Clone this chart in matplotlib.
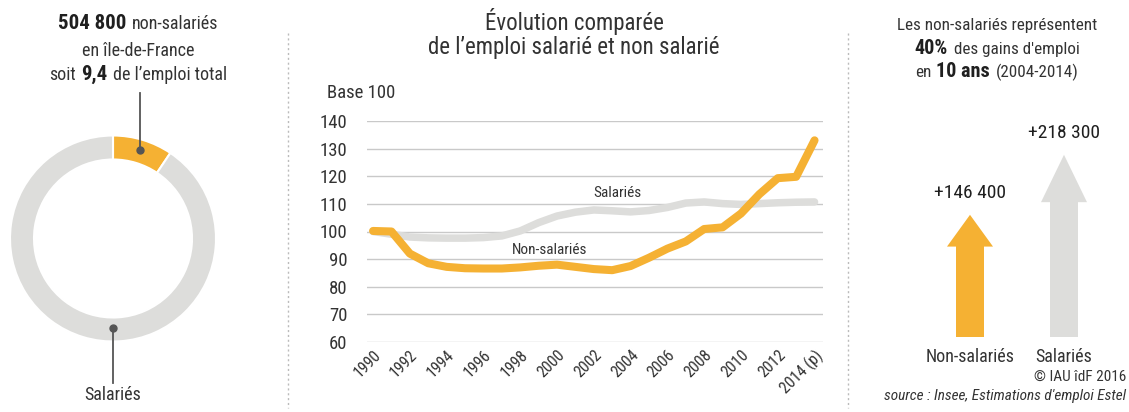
import numpy as np
import matplotlib
matplotlib.use("Agg")
import matplotlib.pyplot as plt
import matplotlib.font_manager as fm

# ---------------- data ----------------
years = list(range(1990, 2015))
non_salaries = [100.2, 100.0, 92.0, 88.5, 87.2, 86.7, 86.6, 86.6, 87.0, 87.6,
                88.0, 87.2, 86.4, 86.0, 87.5, 90.5, 93.8, 96.4, 100.9, 101.5,
                106.5, 113.5, 119.3, 119.8, 133.0]
salaries = [100.0, 99.0, 98.0, 97.7, 97.6, 97.6, 97.8, 98.4, 100.2, 103.2,
            105.6, 107.0, 107.8, 107.5, 107.1, 107.6, 108.7, 110.3, 110.7, 110.1,
            109.8, 110.1, 110.4, 110.6, 110.7]
xtick_years = list(range(1990, 2015, 2))
xtick_labels = [str(y) for y in range(1990, 2013, 2)] + ["2014 (p)"]
yticks = [60, 70, 80, 90, 100, 110, 120, 130, 140]

donut_labels = ["Non-salariés", "Salariés"]
donut_share = [9.4, 90.6]

gain_labels = ["Non-salariés", "Salariés"]
gain_values = [146400, 218300]
gain_texts = ["+146 400", "+218 300"]

# ---------------- style ----------------
avail = {f.name for f in fm.fontManager.ttflist}
FONT = "Roboto"
for cand in ["Roboto Condensed", "Liberation Sans Narrow", "Arial Narrow", "Roboto"]:
    if cand in avail:
        FONT = cand
        break
NARROW = FONT != "Roboto"
K = 1.0 if NARROW else 0.82
plt.rcParams["font.family"] = [FONT, "DejaVu Sans"]

ORANGE = "#F5B133"
GREY = "#DDDDDB"
TXT = "#333333"
DARK = "#1f1f1f"

W, H = 1129, 412
fig = plt.figure(figsize=(W / 100, H / 100), dpi=100)
fig.patch.set_facecolor("white")

# ---------------- donut ----------------
cx, cy, R = 113, 238.5, 103
dax = fig.add_axes([(cx - R) / W, (H - cy - R) / H, 2 * R / W, 2 * R / H])
dax.pie(donut_share, colors=[ORANGE, GREY], startangle=90, counterclock=False,
        radius=1.0, wedgeprops=dict(width=24 / 103, edgecolor="white", linewidth=1.5))
dax.set_xlim(-1, 1)
dax.set_ylim(-1, 1)
dax.set_aspect("equal")
dax.axis("off")

# ---------------- line chart ----------------
ax = fig.add_axes([367 / W, (H - 342) / H, (823 - 367) / W, (342 - 121) / H])
ax.set_xlim(1989.67, 2014.46)
ax.set_ylim(60, 140)
for v in yticks:
    ax.axhline(v, color="#C9C9C9", lw=1.0, zorder=1)
ax.plot(years, salaries, color=GREY, lw=5.4, solid_capstyle="round",
        solid_joinstyle="round", zorder=2)
ax.plot(years, non_salaries, color=ORANGE, lw=5.8, solid_capstyle="round",
        solid_joinstyle="round", zorder=3)
ax.set_yticks(yticks)
ax.set_yticklabels([str(v) for v in yticks], fontsize=13.5 * K, color=TXT)
ax.set_xticks(xtick_years)
ax.set_xticklabels(xtick_labels, fontsize=11.5 * K, color=TXT, rotation=45,
                   ha="right", rotation_mode="anchor")
ax.tick_params(axis="both", length=0)
ax.tick_params(axis="y", pad=14)
ax.tick_params(axis="x", pad=4)
for s in ax.spines.values():
    s.set_visible(False)
ax.set_facecolor("none")
ax.text(2003.3, 111.4, "Salariés", fontsize=11 * K, color=TXT, ha="center", va="bottom")
ax.text(1999.6, 90.8, "Non-salariés", fontsize=11 * K, color=TXT, ha="center", va="bottom")

# ---------------- arrows ----------------
aax = fig.add_axes([920 / W, (H - 337) / H, 200 / W, 217 / H])
aax.set_xlim(0, 200)
aax.set_ylim(0, 260000)
aax.axis("off")
arrow_x = [50, 144]
arrow_cols = [ORANGE, GREY]
for xpos, val, col, lab, cat in zip(arrow_x, gain_values, arrow_cols, gain_texts, gain_labels):
    aax.arrow(xpos, 0, 0, val, width=28, head_width=46, head_length=0.26 * val,
              length_includes_head=True, color=col, lw=0)
    aax.annotate(lab, (xpos, val), xytext=(0, 9), textcoords="offset points",
                 ha="center", va="bottom", fontsize=14 * K, color=DARK)
    aax.annotate(cat, (xpos, 0), xytext=(0, -8), textcoords="offset points",
                 ha="center", va="top", fontsize=13 * K, color=TXT)

# ---------------- overlay (pixel coordinates) ----------------
ov = fig.add_axes([0, 0, 1, 1], zorder=10)
ov.set_xlim(0, W)
ov.set_ylim(H, 0)
ov.axis("off")
ov.patch.set_alpha(0)

renderer = fig.canvas.get_renderer()


def rich(xc, y, pieces):
    """pieces: (text, size, weight, color); centred, baseline at y."""
    ts, ws = [], []
    for s, size, weight, col in pieces:
        t = ov.text(0, y, s, fontsize=size, fontweight=weight, color=col,
                    ha="left", va="baseline")
        ts.append(t)
        ws.append(t.get_window_extent(renderer).width)
    gaps = [0.3 * p[1] * 100 / 72 for p in pieces[:-1]]
    total = sum(ws) + sum(gaps)
    x = xc - total / 2
    for i, t in enumerate(ts):
        t.set_x(x)
        x += ws[i] + (gaps[i] if i < len(gaps) else 0)


# left texts
rich(138, 29, [("504 800", 15 * K, "bold", DARK), ("non-salariés", 13 * K, "normal", TXT)])
rich(138, 56, [("en île-de-France", 13 * K, "normal", TXT)])
rich(138, 80, [("soit", 13 * K, "normal", TXT), ("9,4", 15 * K, "bold", DARK),
               ("de l’emploi total", 13 * K, "normal", TXT)])
ov.plot([140, 140], [93, 150], color="#555555", lw=1.3)
ov.plot([140], [150], "o", color="#555555", ms=5)
ov.plot([113, 113], [328, 383], color="#555555", lw=1.3)
ov.plot([113], [328], "o", color="#555555", ms=5)
ov.text(113, 400, "Salariés", fontsize=13 * K, color=TXT, ha="center", va="baseline")

# title
ov.text(574, 30, "Évolution comparée", fontsize=16.5 * K, color=TXT, ha="center", va="baseline")
ov.text(574, 54, "de l’emploi salarié et non salarié", fontsize=16.5 * K, color=TXT,
        ha="center", va="baseline")
ov.text(327, 98, "Base 100", fontsize=13.5 * K, color=TXT, ha="left", va="baseline")

# right texts
rich(997, 30, [("Les non-salariés représentent", 12.3 * K, "normal", TXT)])
rich(997, 54, [("40%", 14.5 * K, "bold", DARK), ("des gains d'emploi", 12.3 * K, "normal", TXT)])
rich(997, 77, [("en", 12.3 * K, "normal", TXT), ("10 ans", 14.5 * K, "bold", DARK),
               ("(2004-2014)", 12.3 * K, "normal", TXT)])
ov.text(1126, 381, "© IAU îdF 2016", fontsize=11 * K, color=TXT, ha="right", va="baseline")
ov.text(1126, 400, "source : Insee, Estimations d'emploi Estel", fontsize=11 * K,
        color=TXT, ha="right", va="baseline", style="italic")

# dotted separators
for xs in (288, 848):
    ov.plot([xs, xs], [33, 408], color="#BBBBBB", lw=1.0, linestyle=(0, (1.5, 2)))

fig.savefig("out.png", dpi=100, facecolor="white")
